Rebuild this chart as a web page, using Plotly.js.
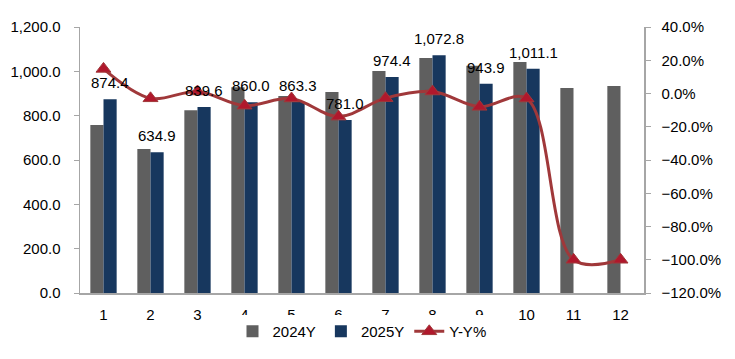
<!DOCTYPE html>
<html>
<head>
<meta charset="utf-8">
<script src="https://cdn.plot.ly/plotly-3.0.1.min.js"></script>
<style>html,body{margin:0;padding:0;background:#fff}#chart{width:735px;height:359px}</style>
</head>
<body>
<div id="chart"></div>
<script>
const months = ['1','2','3','4','5','6','7','8','9','10','11','12'];
const values2024 = [758, 650, 825, 928, 889, 907, 1001, 1060, 1025, 1042, 925, 934];
const values2025 = [874.4, 634.9, 839.6, 860.0, 863.3, 781.0, 974.4, 1072.8, 943.9, 1011.1, null, null];
const yoyPct = [14.8, -2.9, 1.2, -7.3, -3.0, -13.9, -2.8, 1.2, -8.0, -3.0, -100, -100];

const FONT = 'Liberation Sans, Arial, sans-serif';
const fmt = v => v.toLocaleString('en-US', {minimumFractionDigits: 1, maximumFractionDigits: 1});

const traces = [
  {type: 'bar', name: '2024Y', x: months, y: values2024, marker: {color: '#5F5F5F'}, hoverinfo: 'skip'},
  {type: 'bar', name: '2025Y', x: months, y: values2025, marker: {color: '#17375E'}, hoverinfo: 'skip'},
  {type: 'scatter', mode: 'lines+markers', name: 'Y-Y%', x: months, y: yoyPct, yaxis: 'y2',
   line: {color: '#A0383A', width: 3, shape: 'spline', smoothing: 1},
   marker: {symbol: 'triangle-up', size: 13, color: '#B0182C', line: {color: '#A0383A', width: 1}},
   hoverinfo: 'skip', cliponaxis: false}
];

const annotations = [];
months.forEach((m, i) => {
  if (values2025[i] != null) {
    annotations.push({x: i, y: values2025[i], xref: 'x', yref: 'y', text: fmt(values2025[i]),
      showarrow: false, xshift: 6.6, yanchor: 'bottom', yshift: 6,
      font: {family: FONT, size: 15, color: '#000'}});
  }
});

const layout = {
  width: 735, height: 359,
  margin: {l: 80, r: 91, t: 27, b: 66, autoexpand: false},
  paper_bgcolor: '#fff', plot_bgcolor: '#fff',
  font: {family: FONT, size: 15, color: '#000'},
  barmode: 'group', bargap: 0.44, bargroupgap: 0,
  showlegend: true,
  legend: {orientation: 'h', x: 0.5, xanchor: 'center', y: -0.145, yanchor: 'middle',
           font: {family: FONT, size: 15, color: '#000'}, traceorder: 'normal'},
  xaxis: {type: 'category', range: [-0.5, months.length - 0.5], autorange: false,
          showline: true, linecolor: '#A6A6A6', linewidth: 1.5, automargin: false,
          ticks: '', showgrid: false, zeroline: false, ticklabelstandoff: 7,
          tickfont: {family: FONT, size: 15}},
  yaxis: {range: [0, 1200], dtick: 200, tickformat: ',.1f', showgrid: false, zeroline: false, automargin: false,
          showline: true, linecolor: '#A6A6A6', linewidth: 1.5, ticks: 'outside', ticklen: 5,
          tickcolor: '#A6A6A6', ticklabelstandoff: 10, tickfont: {family: FONT, size: 15}},
  yaxis2: {overlaying: 'y', side: 'right', range: [-120, 40], dtick: 20, tickformat: '.1f', automargin: false,
           ticksuffix: '%', showgrid: false, zeroline: false, showline: true, linecolor: '#A6A6A6',
           linewidth: 1.5, ticks: 'outside', ticklen: 5, tickcolor: '#A6A6A6', ticklabelstandoff: 8,
           tickfont: {family: FONT, size: 15}},
  annotations: annotations
};

Plotly.newPlot('chart', traces, layout, {staticPlot: true});
</script>
</body>
</html>
